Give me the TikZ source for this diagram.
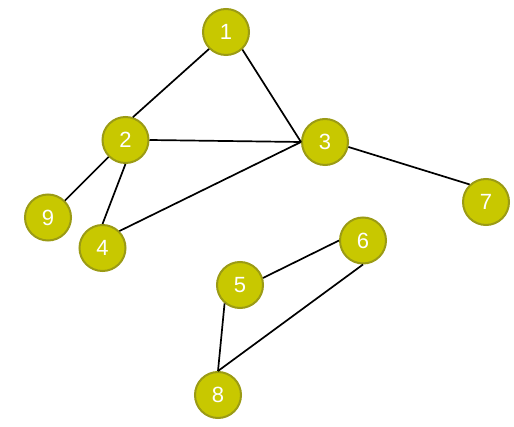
\documentclass[tikz,border=0pt]{standalone}
\usepackage{fontspec}
\setmainfont{Liberation Sans}
\definecolor{nodefill}{RGB}{200,200,0}
\definecolor{nodeborder}{RGB}{155,155,20}
\begin{document}
\begin{tikzpicture}[x=1pt,y=-1pt,
  vert/.style={circle,fill=nodefill,draw=nodeborder,line width=2pt,minimum size=46pt,inner sep=0pt,text=white,font=\fontsize{22}{22}\selectfont},
  edge/.style={line width=1.7pt,black}]
\useasboundingbox (0,0) rectangle (514,427);
\node[vert] (n1) at (226,32) {1};
\node[vert] (n2) at (125.5,140) {2};
\node[vert] (n3) at (325,142) {3};
\node[vert] (n4) at (102.5,248) {4};
\node[vert] (n5) at (240,285) {5};
\node[vert] (n6) at (363,240.5) {6};
\node[vert] (n7) at (486,202) {7};
\node[vert] (n8) at (218,395) {8};
\node[vert] (n9) at (48,217.5) {9};
\draw[edge] (n1.225) -- (n2.72);
\draw[edge] (n1.-47) -- (n3.west);
\draw[edge] (n2.east) -- (n3.west);
\draw[edge] (n2.225) -- (n9.45);
\draw[edge] (n2.south) -- (n4.north);
\draw[edge] (n3.west) -- (n4.45);
\draw[edge] (n3.-12) -- (n7.133);
\draw[edge] (n5.17) -- (n6.west);
\draw[edge] (n5.230) -- (n8.north);
\draw[edge] (n6.south) -- (n8.north);
\end{tikzpicture}
\end{document}
